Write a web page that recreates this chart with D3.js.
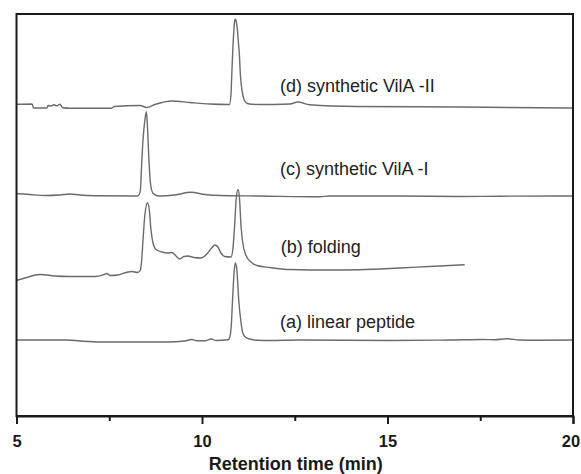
<!DOCTYPE html>
<html>
<head>
<meta charset="utf-8">
<script src="https://cdn.jsdelivr.net/npm/d3@7"></script>
<style>
  html, body { margin: 0; padding: 0; background: #fff; }
  svg { display: block; }
</style>
</head>
<body>
<svg id="chart" width="581" height="474"></svg>
<script>
// ---- Data (retention time in min, signal in arbitrary stacked units) ----
const seriesNames = ["(a) linear peptide", "(b) folding", "(c) synthetic VilA -I", "(d) synthetic VilA -II"];

const traceA = [
  [5.00,76],[5.63,76],[6.36,76],[6.71,75],[7.25,74],[8.33,74],[9.05,74],[9.54,75],[9.73,76.5],
  [9.86,75.3],[10.08,75.2],[10.25,77],[10.37,75.5],[10.70,76.2],[10.75,79],[10.79,91],[10.83,121],
  [10.87,146],[10.90,153],[10.94,146],[10.99,116],[11.05,94],[11.10,83],[11.18,78.5],[11.29,77],
  [11.50,75.7],[11.83,75.5],[12.63,76],[15.06,75.5],[16.67,76],[17.56,76.5],[17.89,76.3],
  [18.21,77.3],[18.56,76],[19.10,75.7],[20.00,76]
];

const traceB = [
  [5.00,135.5],[5.23,138],[5.63,141.5],[6.04,140],[6.44,139.5],[7.14,139.5],[7.36,141.5],
  [7.44,142.5],[7.52,140.5],[7.73,141],[7.95,143.5],[8.11,144.5],[8.27,143.5],[8.34,146],
  [8.37,154],[8.41,176],[8.46,201],[8.53,213.3],[8.58,206],[8.62,188],[8.68,173],[8.76,166.5],
  [8.92,164],[9.08,163],[9.19,163.5],[9.30,160],[9.40,157],[9.51,159.5],[9.62,160],[9.78,158.5],
  [9.97,158],[10.13,162],[10.26,168],[10.35,171],[10.43,169],[10.51,163],[10.61,159.5],
  [10.78,159],[10.83,166],[10.88,191],[10.92,216],[10.97,226.5],[11.01,218],[11.05,191],
  [11.10,173],[11.18,161],[11.32,154],[11.48,150.5],[11.83,148.5],[12.37,146.5],[13.44,146],
  [14.25,146.3],[15.33,148],[16.13,149.5],[17.08,151.2]
];

const traceC = [
  [5.00,222.5],[5.36,221.5],[5.77,220.5],[6.17,221],[6.44,222],[6.71,221],[7.11,220.3],
  [8.25,220],[8.29,220.5],[8.34,226],[8.37,249],[8.41,276],[8.46,296],[8.50,304.3],[8.53,289.3],
  [8.57,256],[8.61,233],[8.68,222.7],[8.82,220],[9.27,221],[9.70,223.7],[10.08,221.5],
  [10.48,220.5],[11.56,220],[13.17,219.2],[13.44,220],[15.33,220],[16.94,219.5],[18.02,219.8],
  [20.00,220]
];

const traceD = [
  [5.00,311.7],[5.42,312],[5.46,308],[5.82,308],[5.85,310.5],[5.93,310],[6.01,311.2],[6.09,310.2],
  [6.17,311.7],[6.25,308.2],[6.44,307.7],[7.57,307.8],[7.63,309.5],[8.33,310.5],[8.51,308.5],
  [8.73,311.5],[9.19,315],[9.67,313.5],[10.21,312],[10.70,311.5],[10.74,311.5],[10.78,321],
  [10.80,339],[10.83,366],[10.86,386],[10.88,395],[10.90,396.7],[10.92,395],[10.95,388],
  [10.98,374],[11.01,360],[11.03,344],[11.06,331],[11.10,321],[11.15,315],[11.23,312.5],
  [11.34,311.7],[11.56,311.5],[12.37,312],[12.58,314],[12.90,311.2],[14.17,309.5],[16.94,309],
  [20.00,308]
];

const traces = [traceA, traceB, traceC, traceD];
const labelAnchors = [[12.1, 88], [12.12, 163], [12.1, 241], [12.1, 324]];

const xTicks = [5, 10, 15, 20];
const xMinorTicks = [7.5, 12.5, 17.5];
const xTitle = "Retention time (min)";

// ---- Layout ----
const mLeft = 16.5, mRight = 573, mTop = 14, mBottom = 416;
const svg = d3.select("#chart");

const x = d3.scaleLinear().domain([5, 20]).range([mLeft, mRight]);
const y = d3.scaleLinear().domain([0, 402]).range([mBottom, mTop]);

const line = d3.line()
  .x(d => x(d[0]))
  .y(d => y(d[1]))
  .curve(d3.curveMonotoneX);

// traces
svg.append("g")
  .selectAll("path")
  .data(traces)
  .join("path")
  .attr("d", line)
  .attr("fill", "none")
  .attr("stroke", "#6b6b6b")
  .attr("stroke-width", 1.4)
  .attr("stroke-linejoin", "round");

// labels
svg.append("g")
  .selectAll("text")
  .data(seriesNames)
  .join("text")
  .attr("x", (d, i) => x(labelAnchors[i][0]))
  .attr("y", (d, i) => y(labelAnchors[i][1]))
  .attr("font-family", "'Liberation Sans', Arial, sans-serif")
  .attr("font-size", 18)
  .attr("fill", "#222")
  .text(d => d);

// frame
svg.append("rect")
  .attr("x", mLeft)
  .attr("y", mTop)
  .attr("width", mRight - mLeft)
  .attr("height", mBottom - mTop)
  .attr("fill", "none")
  .attr("stroke", "#1a1a1a")
  .attr("stroke-width", 2);

// x axis
const ax = svg.append("g")
  .attr("transform", `translate(0,${mBottom})`)
  .call(d3.axisBottom(x).tickValues(xTicks).tickSize(8).tickPadding(11).tickFormat(d3.format("d")));
ax.select(".domain").attr("stroke", "#1a1a1a").attr("stroke-width", 2);
ax.selectAll(".tick line").attr("stroke", "#1a1a1a").attr("stroke-width", 2);
ax.selectAll(".tick text")
  .attr("font-family", "'Liberation Sans', Arial, sans-serif")
  .attr("font-size", 16.5)
  .attr("font-weight", "bold")
  .attr("fill", "#1a1a1a")
  .attr("dx", d => d === 20 ? -2.5 : 0);

const axm = svg.append("g")
  .attr("transform", `translate(0,${mBottom})`)
  .call(d3.axisBottom(x).tickValues(xMinorTicks).tickSize(5).tickFormat(""));
axm.select(".domain").remove();
axm.selectAll(".tick line").attr("stroke", "#1a1a1a").attr("stroke-width", 2);

svg.append("text")
  .attr("x", (mLeft + mRight) / 2 + 1)
  .attr("y", 470)
  .attr("text-anchor", "middle")
  .attr("font-family", "'Liberation Sans', Arial, sans-serif")
  .attr("font-size", 18)
  .attr("font-weight", "bold")
  .attr("fill", "#1a1a1a")
  .text(xTitle);
</script>
</body>
</html>
